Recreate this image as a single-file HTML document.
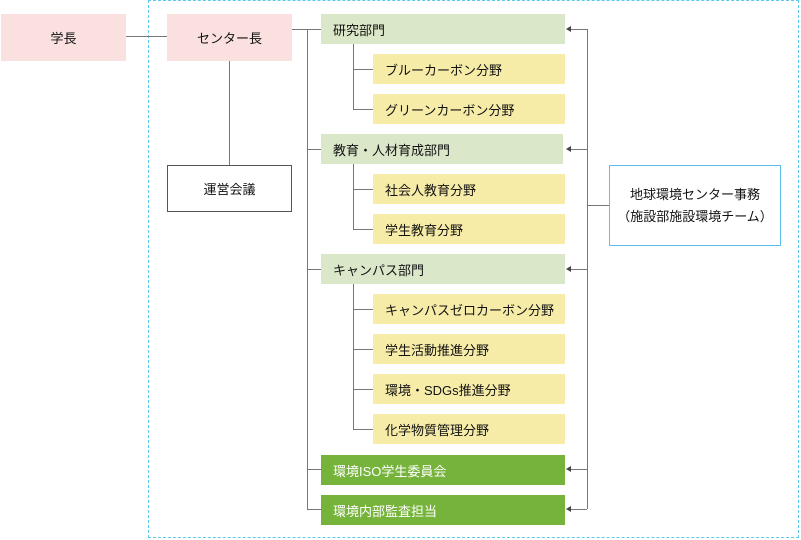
<!DOCTYPE html>
<html><head><meta charset="utf-8"><style>
body{margin:0;width:801px;height:540px;background:#fff;position:relative;font-family:"Liberation Sans","Noto Sans CJK JP",sans-serif;font-size:13px;color:#111;overflow:hidden}
.b{position:absolute;box-sizing:border-box;display:flex;align-items:center}
.c{justify-content:center;text-align:center}
.p{background:#fbe0e0}
.g{background:#dbe7c9;padding-left:12px}
.y{background:#f6eca8;padding-left:12px}
.d{background:#76b33a;color:#fff;padding-left:12px}
.l{position:absolute;background:#777}
.a{position:absolute;width:0;height:0;border-top:3px solid transparent;border-bottom:3px solid transparent;border-right:5px solid #444}
</style></head><body>
<div style="position:absolute;left:148px;top:0;width:651px;height:538px;box-sizing:border-box;border:1px dashed #5bc8ee"></div>
<div class="b c p" style="left:1px;top:14px;width:125px;height:47px">学長</div>
<div class="b c p" style="left:167px;top:14px;width:125px;height:47px">センター長</div>
<div class="b c" style="left:167px;top:165px;width:125px;height:47px;border:1px solid #555">運営会議</div>
<div class="l" style="left:126px;top:36px;width:41px;height:1px"></div>
<div class="l" style="left:229px;top:61px;width:1px;height:104px"></div>
<div class="l" style="left:292px;top:29px;width:29px;height:1px"></div>
<div class="l" style="left:307px;top:29px;width:1px;height:480px"></div>
<div class="l" style="left:307px;top:149px;width:14px;height:1px"></div>
<div class="l" style="left:307px;top:269px;width:14px;height:1px"></div>
<div class="l" style="left:307px;top:469px;width:14px;height:1px"></div>
<div class="l" style="left:307px;top:509px;width:14px;height:1px"></div>
<div class="b g" style="left:321px;top:14px;width:244px;height:30px">研究部門</div>
<div class="b g" style="left:321px;top:134px;width:242px;height:30px">教育・人材育成部門</div>
<div class="b g" style="left:321px;top:254px;width:244px;height:30px">キャンパス部門</div>
<div class="b d" style="left:321px;top:455px;width:244px;height:30px">環境ISO学生委員会</div>
<div class="b d" style="left:321px;top:495px;width:244px;height:30px">環境内部監査担当</div>
<div class="l" style="left:353px;top:44px;width:1px;height:65px"></div>
<div class="l" style="left:353px;top:164px;width:1px;height:65px"></div>
<div class="l" style="left:353px;top:284px;width:1px;height:145px"></div>
<div class="l" style="left:353px;top:69px;width:20px;height:1px"></div>
<div class="l" style="left:353px;top:109px;width:20px;height:1px"></div>
<div class="l" style="left:353px;top:189px;width:20px;height:1px"></div>
<div class="l" style="left:353px;top:229px;width:20px;height:1px"></div>
<div class="l" style="left:353px;top:309px;width:20px;height:1px"></div>
<div class="l" style="left:353px;top:349px;width:20px;height:1px"></div>
<div class="l" style="left:353px;top:389px;width:20px;height:1px"></div>
<div class="l" style="left:353px;top:429px;width:20px;height:1px"></div>
<div class="b y" style="left:373px;top:54px;width:192px;height:30px">ブルーカーボン分野</div>
<div class="b y" style="left:373px;top:94px;width:192px;height:30px">グリーンカーボン分野</div>
<div class="b y" style="left:373px;top:174px;width:192px;height:30px">社会人教育分野</div>
<div class="b y" style="left:373px;top:214px;width:192px;height:30px">学生教育分野</div>
<div class="b y" style="left:373px;top:294px;width:192px;height:30px">キャンパスゼロカーボン分野</div>
<div class="b y" style="left:373px;top:334px;width:192px;height:30px">学生活動推進分野</div>
<div class="b y" style="left:373px;top:374px;width:192px;height:30px">環境・SDGs推進分野</div>
<div class="b y" style="left:373px;top:414px;width:192px;height:30px">化学物質管理分野</div>
<div class="l" style="left:587px;top:29px;width:1px;height:480px"></div>
<div class="l" style="left:587px;top:205px;width:22px;height:1px"></div>
<div class="l" style="left:569px;top:29px;width:18px;height:1px"></div>
<div class="l" style="left:569px;top:149px;width:18px;height:1px"></div>
<div class="l" style="left:569px;top:269px;width:18px;height:1px"></div>
<div class="l" style="left:569px;top:469px;width:18px;height:1px"></div>
<div class="l" style="left:569px;top:509px;width:18px;height:1px"></div>
<div class="a" style="left:566px;top:26px"></div>
<div class="a" style="left:566px;top:146px"></div>
<div class="a" style="left:566px;top:266px"></div>
<div class="a" style="left:566px;top:466px"></div>
<div class="a" style="left:566px;top:506px"></div>
<div class="b c" style="left:609px;top:165px;width:172px;height:81px;border:1px solid #5bc0eb"><div style="width:100%;text-align:center;line-height:22px">地球環境センター事務<br>（施設部施設環境チーム）</div></div>
</body></html>
